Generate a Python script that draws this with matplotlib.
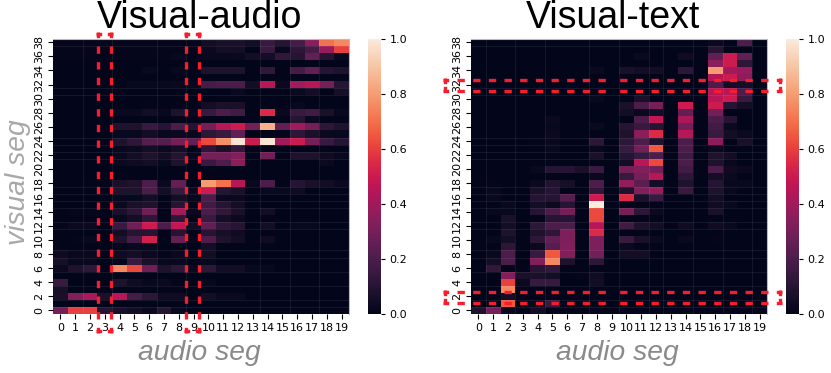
import numpy as np
import matplotlib
matplotlib.use('Agg')
import matplotlib.pyplot as plt
from matplotlib.lines import Line2D
import seaborn as sns

# values, top row (visual seg 38) first
audio_segs = list(range(20))
visual_segs = list(range(39))

visual_audio = [
    [.01,.01,.01,.01,.01,.01,.01,.01,.01,.01,.05,.07,.07,.05,.15,.10,.18,.35,.70,.75],
    [.01,.01,.01,.01,.01,.01,.01,.01,.01,.01,.03,.05,.05,.00,.15,.02,.12,.18,.38,.60],
    [.01,.01,.01,.01,.01,.01,.01,.01,.02,.01,.02,.02,.03,.05,.05,.13,.10,.25,.10,.02],
    [.00,.00,.00,.00,.00,.00,.00,.00,.00,.00,.00,.00,.00,.00,.00,.00,.00,.00,.00,.00],
    [.00,.00,.00,.00,.00,.00,.02,.00,.02,.01,.08,.08,.08,.00,.13,.00,.18,.25,.10,.08],
    [.00,.00,.00,.00,.00,.00,.00,.00,.00,.00,.00,.00,.00,.00,.00,.00,.00,.00,.00,.00],
    [.00,.00,.00,.00,.01,.02,.02,.02,.03,.02,.18,.20,.20,.05,.45,.03,.40,.45,.30,.10],
    [.00,.00,.00,.00,.00,.00,.00,.00,.00,.00,.00,.00,.03,.00,.00,.00,.03,.05,.00,.06],
    [.00,.00,.00,.00,.00,.00,.00,.00,.00,.00,.00,.00,.00,.00,.00,.00,.00,.00,.00,.00],
    [.00,.00,.00,.00,.00,.00,.01,.00,.01,.00,.05,.07,.07,.00,.00,.00,.02,.00,.00,.00],
    [.00,.00,.00,.00,.03,.03,.05,.02,.08,.02,.15,.20,.17,.00,.55,.02,.15,.17,.07,.02],
    [.00,.00,.00,.00,.00,.00,.00,.00,.00,.00,.00,.00,.00,.00,.00,.00,.10,.03,.00,.00],
    [.00,.00,.00,.00,.08,.08,.15,.10,.20,.10,.30,.45,.50,.30,.85,.25,.40,.30,.12,.08],
    [.00,.00,.00,.00,.02,.02,.05,.02,.03,.02,.12,.15,.25,.00,.00,.00,.12,.07,.03,.02],
    [.00,.00,.00,.00,.08,.12,.22,.22,.30,.25,.62,.77,.98,.50,.98,.40,.50,.30,.15,.10],
    [.00,.00,.00,.00,.02,.03,.05,.03,.05,.00,.12,.07,.13,.00,.00,.00,.00,.00,.00,.00],
    [.00,.00,.00,.00,.03,.05,.08,.05,.10,.02,.30,.30,.33,.00,.28,.00,.08,.08,.04,.02],
    [.00,.00,.00,.00,.03,.04,.05,.02,.08,.00,.15,.20,.35,.00,.00,.00,.00,.00,.03,.00],
    [.00,.00,.00,.00,.00,.00,.00,.00,.00,.00,.00,.00,.00,.00,.00,.00,.00,.00,.00,.00],
    [.00,.00,.00,.00,.00,.00,.00,.00,.00,.00,.00,.00,.00,.00,.00,.00,.00,.00,.00,.00],
    [.00,.00,.01,.01,.07,.08,.20,.03,.25,.00,.80,.70,.45,.02,.20,.00,.10,.07,.05,.03],
    [.00,.00,.00,.00,.08,.08,.20,.05,.15,.03,.50,.10,.07,.00,.03,.02,.04,.00,.00,.00],
    [.00,.00,.00,.00,.02,.02,.05,.00,.05,.02,.20,.03,.03,.00,.00,.00,.00,.00,.00,.00],
    [.00,.00,.00,.00,.03,.07,.08,.01,.10,.00,.17,.10,.05,.00,.00,.00,.00,.00,.00,.00],
    [.00,.01,.01,.00,.07,.12,.28,.00,.40,.03,.20,.13,.07,.00,.05,.00,.00,.00,.00,.00],
    [.00,.00,.00,.00,.02,.05,.12,.00,.12,.00,.15,.05,.03,.00,.00,.00,.00,.00,.00,.00],
    [.01,.03,.03,.00,.15,.28,.50,.20,.48,.05,.25,.13,.10,.00,.05,.00,.02,.02,.00,.00],
    [.00,.00,.00,.00,.05,.10,.10,.00,.10,.00,.10,.06,.04,.00,.00,.00,.00,.00,.00,.00],
    [.00,.01,.02,.00,.08,.18,.52,.00,.25,.02,.20,.08,.05,.00,.04,.00,.00,.00,.00,.00],
    [.00,.00,.00,.00,.01,.02,.02,.00,.00,.00,.05,.00,.00,.00,.00,.00,.00,.00,.00,.00],
    [.04,.02,.02,.00,.04,.05,.03,.01,.03,.00,.05,.00,.00,.00,.00,.00,.00,.00,.00,.00],
    [.06,.02,.02,.00,.00,.15,.07,.02,.02,.00,.02,.00,.00,.00,.00,.00,.00,.00,.00,.00],
    [.03,.08,.12,.00,.75,.62,.28,.08,.12,.03,.12,.05,.05,.02,.02,.00,.00,.00,.00,.00],
    [.00,.00,.00,.00,.00,.00,.00,.00,.00,.00,.00,.00,.00,.00,.00,.00,.00,.00,.00,.00],
    [.15,.00,.00,.00,.08,.04,.02,.03,.01,.00,.02,.00,.00,.00,.00,.00,.00,.00,.00,.00],
    [.06,.00,.00,.00,.00,.01,.00,.00,.00,.00,.00,.00,.00,.00,.00,.00,.00,.00,.00,.00],
    [.07,.33,.42,.07,.45,.18,.12,.04,.04,.00,.05,.03,.03,.00,.00,.00,.00,.00,.00,.00],
    [.00,.00,.00,.00,.00,.00,.00,.00,.00,.00,.00,.00,.00,.00,.00,.00,.00,.00,.00,.00],
    [.30,.60,.60,.10,.07,.05,.03,.10,.02,.00,.00,.00,.00,.00,.00,.00,.00,.00,.00,.00],
]

visual_text = [
    [.00,.00,.00,.00,.00,.00,.00,.00,.00,.00,.00,.00,.00,.00,.00,.00,.03,.00,.20,.00],
    [.00,.00,.00,.00,.00,.00,.00,.00,.00,.00,.00,.00,.00,.00,.00,.00,.10,.00,.00,.00],
    [.00,.00,.00,.00,.00,.00,.00,.00,.00,.00,.00,.03,.00,.00,.04,.00,.25,.50,.25,.00],
    [.00,.00,.00,.00,.00,.00,.00,.00,.00,.00,.00,.00,.00,.00,.00,.00,.35,.50,.12,.00],
    [.00,.00,.00,.00,.00,.00,.00,.00,.03,.00,.07,.05,.05,.00,.12,.00,.80,.40,.38,.00],
    [.00,.00,.00,.00,.00,.00,.00,.00,.00,.00,.00,.00,.00,.00,.00,.00,.45,.50,.35,.00],
    [.00,.00,.00,.00,.00,.00,.00,.00,.00,.00,.00,.00,.00,.00,.00,.00,.20,.05,.05,.00],
    [.00,.00,.00,.00,.00,.00,.00,.00,.00,.00,.00,.00,.00,.00,.00,.00,.45,.45,.20,.00],
    [.00,.00,.00,.00,.00,.00,.00,.00,.02,.00,.01,.07,.00,.00,.00,.00,.45,.50,.15,.00],
    [.00,.00,.00,.00,.00,.00,.00,.00,.00,.00,.07,.20,.30,.00,.50,.00,.50,.10,.05,.00],
    [.00,.00,.00,.00,.00,.00,.00,.00,.00,.00,.05,.03,.05,.00,.25,.00,.30,.00,.00,.00],
    [.00,.00,.00,.00,.00,.03,.00,.00,.00,.00,.00,.20,.48,.00,.42,.00,.20,.10,.00,.00],
    [.00,.00,.00,.00,.00,.02,.00,.00,.03,.00,.10,.15,.10,.00,.30,.00,.17,.03,.00,.00],
    [.00,.00,.00,.00,.00,.03,.00,.00,.00,.00,.08,.35,.55,.00,.45,.00,.15,.05,.03,.00],
    [.00,.00,.00,.00,.01,.02,.00,.00,.12,.00,.12,.20,.08,.00,.20,.00,.35,.00,.07,.00],
    [.00,.00,.00,.00,.00,.02,.00,.00,.02,.00,.15,.30,.65,.00,.20,.00,.03,.00,.00,.00],
    [.00,.00,.00,.00,.00,.01,.00,.00,.07,.00,.10,.15,.20,.00,.17,.00,.08,.05,.00,.00],
    [.00,.00,.00,.00,.00,.00,.00,.00,.00,.00,.05,.45,.62,.00,.20,.00,.08,.02,.00,.00],
    [.00,.00,.00,.00,.02,.10,.10,.07,.15,.00,.30,.33,.30,.00,.17,.00,.20,.04,.03,.00],
    [.00,.00,.00,.00,.00,.00,.00,.00,.02,.00,.15,.30,.45,.00,.12,.00,.05,.03,.00,.00],
    [.00,.01,.00,.00,.03,.09,.06,.00,.20,.00,.37,.24,.05,.00,.08,.00,.10,.02,.02,.00],
    [.00,.02,.00,.00,.07,.10,.00,.00,.13,.00,.08,.33,.38,.00,.15,.00,.08,.02,.00,.00],
    [.00,.02,.00,.00,.10,.10,.22,.00,.50,.00,.55,.07,.15,.00,.00,.00,.05,.00,.00,.00],
    [.00,.00,.03,.00,.05,.03,.10,.00,1.0,.00,.00,.00,.00,.00,.00,.00,.04,.03,.00,.00],
    [.00,.02,.02,.00,.10,.20,.30,.00,.62,.00,.30,.12,.03,.00,.00,.00,.07,.00,.00,.00],
    [.00,.00,.07,.00,.00,.10,.10,.00,.62,.00,.00,.00,.00,.00,.00,.00,.00,.00,.00,.00],
    [.00,.00,.05,.00,.12,.20,.20,.00,.45,.00,.17,.08,.05,.00,.04,.00,.04,.02,.00,.00],
    [.00,.00,.08,.00,.08,.12,.32,.00,.55,.00,.00,.00,.00,.00,.00,.00,.00,.00,.00,.00],
    [.00,.02,.05,.00,.12,.25,.32,.00,.32,.00,.15,.07,.03,.00,.03,.00,.01,.00,.00,.00],
    [.00,.00,.12,.00,.03,.22,.33,.00,.32,.00,.03,.00,.00,.00,.00,.00,.00,.00,.00,.00],
    [.00,.02,.20,.00,.15,.65,.33,.00,.30,.00,.05,.05,.00,.00,.00,.00,.00,.00,.00,.00],
    [.00,.05,.20,.00,.33,.75,.08,.00,.12,.00,.00,.00,.00,.00,.00,.00,.00,.00,.00,.00],
    [.00,.13,.00,.00,.10,.13,.00,.00,.00,.00,.00,.00,.00,.00,.00,.00,.00,.00,.00,.00],
    [.00,.00,.33,.07,.07,.05,.00,.01,.04,.00,.00,.00,.00,.00,.00,.00,.00,.00,.00,.00],
    [.00,.00,.60,.03,.15,.15,.00,.00,.05,.00,.00,.00,.00,.00,.00,.00,.00,.00,.00,.00],
    [.00,.00,.75,.00,.00,.00,.00,.00,.00,.00,.00,.00,.00,.00,.00,.00,.00,.00,.00,.00],
    [.00,.00,.05,.00,.00,.00,.00,.00,.00,.00,.00,.00,.00,.00,.00,.00,.00,.00,.00,.00],
    [.00,.00,.65,.00,.02,.15,.00,.00,.01,.00,.00,.00,.00,.00,.00,.00,.00,.00,.00,.00],
    [.08,.30,.02,.00,.05,.00,.00,.00,.01,.00,.00,.00,.00,.00,.00,.00,.00,.00,.00,.00],
]

# faint seams between cells
seam_rows = [1, 2, 4, 6, 8, 9, 12, 13, 15, 16, 17, 18, 22, 23, 24, 25, 31, 32, 38]
audio_seam_cols = [2, 4, 7, 9, 14, 16, 18]
text_seam_cols = [1, 3, 5, 8, 10, 12, 13, 15, 17, 19]

W, H = 831, 373
RED = '#f81d2c'

def px_axes(fig, x0, y0, x1, y1):
    # pixel box measured from the top left of the picture
    return fig.add_axes([x0/W, 1-y1/H, (x1-x0)/W, (y1-y0)/H])

def px_side(fig, x0, y0, x1, y1):
    # dash pattern runs from the corner, pushed out half a line width for a square corner
    dx, dy = np.sign(x1-x0)*1.65, np.sign(y1-y0)*1.65
    line = Line2D([(x0-dx)/W, x1/W], [1-(y0-dy)/H, 1-y1/H], transform=fig.transFigure, color=RED,
                  linewidth=2.4, linestyle=(0.5, (2.2, 2.5)), zorder=10)
    line.set_dash_capstyle('butt')
    fig.add_artist(line)

def px_box(fig, x0, y0, x1, y1):
    xm, ym = (x0+x1)/2, (y0+y1)/2
    for x in (x0, x1):
        px_side(fig, x, y0, x, ym)
        px_side(fig, x, y1, x, ym)
    for y in (y0, y1):
        px_side(fig, x0, y, xm, y)
        px_side(fig, x1, y, xm, y)

def panel(fig, values, seam_cols, box, cbox, title, title_x):
    ax = px_axes(fig, *box)
    cax = px_axes(fig, *cbox)
    sns.heatmap(np.array(values)[::-1], ax=ax, cbar_ax=cax, vmin=0, vmax=1, cmap='rocket',
                xticklabels=audio_segs, yticklabels=visual_segs)
    ax.invert_yaxis()
    ax.set_yticks(np.arange(0, 39, 2)+0.5, visual_segs[::2], rotation=90, va='center')
    ax.set_xticks(np.arange(20)+0.5, audio_segs, rotation=0)
    ax.tick_params(labelsize=8, length=3.5, width=0.8, pad=3)
    cax.tick_params(labelsize=8, length=3, width=0.8, pad=3)
    ax.hlines(seam_rows, 0, 20, color='white', alpha=0.07, linewidth=0.7)
    ax.vlines(seam_cols, 0, 39, color='white', alpha=0.07, linewidth=0.7)
    for s in ['top', 'right']:
        ax.spines[s].set_visible(True)
        ax.spines[s].set_color('#b9b9c6')
        ax.spines[s].set_linewidth(0.8)
    fig.text(title_x/W, 1-28/H, title, family='Liberation Sans', fontsize=27,
             ha='center', va='baseline', color='black')
    fig.text((box[0]+box[2])/2/W-2/W, 1-360/H, 'audio seg', family='Liberation Sans', style='italic',
             fontsize=20.3, ha='center', va='baseline', color='#8a8a8a')
    return ax

fig = plt.figure(figsize=(W/100, H/100), dpi=100)
panel(fig, visual_audio, audio_seam_cols, (53, 38.7, 349, 314), (368, 38.7, 381, 314), 'Visual-audio', 200)
panel(fig, visual_text, text_seam_cols, (471, 38.7, 767, 314), (786, 38.7, 799, 314), 'Visual-text', 613)
fig.text(18/W, 1-182/H, 'visual seg', family='Liberation Sans', style='italic', fontsize=20.3,
         rotation=90, ha='center', va='center', color='#a8a8a8')

px_box(fig, 98, 34, 111, 331)
px_box(fig, 186, 34, 199, 331)
px_box(fig, 445, 79.5, 780, 90.5)
px_box(fig, 445, 291.5, 780, 302.5)

fig.savefig('out.png', dpi=100)
